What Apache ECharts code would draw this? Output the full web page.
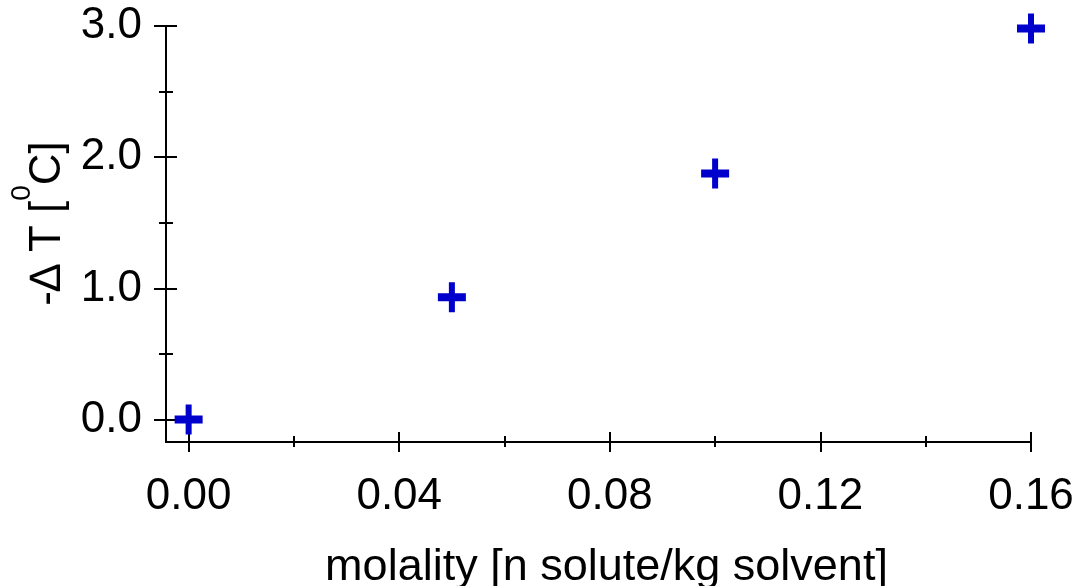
<!DOCTYPE html>
<html><head><meta charset="utf-8">
<script src="https://cdn.jsdelivr.net/npm/echarts@6/dist/echarts.min.js"></script>
<style>html,body{margin:0;padding:0;background:#fff}#c{width:1079px;height:586px}</style>
</head><body><div id="c"></div>
<script>
const molality = [0.00, 0.05, 0.10, 0.16];
const deltaT = [0.00, 0.932, 1.875, 2.98];
const xMajorTicks = [0, 0.04, 0.08, 0.12, 0.16];
const xMinorTicks = [0.02, 0.06, 0.10, 0.14];
const yMajorTicks = [0, 1, 2, 3];
const yMinorTicks = [0.5, 1.5, 2.5];
const xTitle = 'molality [n solute/kg solvent]';
const yTitleMain1 = '-\u2206 T [';
const yTitleSup = '0';
const yTitleMain2 = 'C]';

const XMIN = -0.0043, XMAX = 0.16, YMIN = -0.171, YMAX = 3.0;
const FONT = 'Liberation Sans, Arial, sans-serif';
const BLACK = '#000';

function tickAxis(kind, values, len, inside, extra) {
  const base = {
    type: 'value', min: kind === 'x' ? XMIN : YMIN, max: kind === 'x' ? XMAX : YMAX,
    position: kind === 'x' ? 'bottom' : 'left',
    axisLine: { show: false, onZero: false },
    splitLine: { show: false },
    axisLabel: { show: false },
    axisTick: { show: true, inside: inside, length: len, customValues: values,
      lineStyle: { color: BLACK, width: 2 } }
  };
  return Object.assign(base, extra || {});
}

const data = molality.map((m, i) => [m, deltaT[i]]);

const chart = echarts.init(document.getElementById('c'), null, { renderer: 'canvas' });
chart.setOption({
  animation: false,
  backgroundColor: '#fff',
  textStyle: { fontFamily: FONT },
  grid: { left: 166, right: 48, top: 26, bottom: 144, containLabel: false, outerBoundsMode: 'none' },
  xAxis: [
    tickAxis('x', xMajorTicks, 10, false, {
      axisLine: { show: true, onZero: false, lineStyle: { color: BLACK, width: 2 } },
      axisLabel: { show: true, customValues: xMajorTicks, formatter: v => v.toFixed(2),
        fontSize: 44, color: BLACK, margin: 33, fontFamily: FONT },
      name: xTitle, nameLocation: 'middle', nameGap: 103,
      nameTextStyle: { fontSize: 45, color: BLACK, fontFamily: FONT, padding: [0, 0, 0, 16] }
    }),
    tickAxis('x', xMajorTicks, 10, true),
    tickAxis('x', xMinorTicks, 5, false),
    tickAxis('x', xMinorTicks, 6, true)
  ],
  yAxis: [
    tickAxis('y', yMajorTicks, 12, false, {
      axisLine: { show: true, onZero: false, lineStyle: { color: BLACK, width: 2 } },
      axisLabel: { show: true, customValues: yMajorTicks, formatter: v => v.toFixed(1),
        fontSize: 44, color: BLACK, margin: 24, padding: [18, 0, 0, 0], fontFamily: FONT },
      name: '{a|' + yTitleMain1 + '}{s|' + yTitleSup + '}{a|' + yTitleMain2 + '}',
      nameLocation: 'middle', nameRotate: 90, nameGap: 78,
      nameTextStyle: {
        color: BLACK, fontFamily: FONT, padding: [0, 0, 0, 21],
        rich: {
          a: { fontSize: 44, lineHeight: 80, color: BLACK, fontFamily: FONT },
          s: { fontSize: 28, lineHeight: 31, verticalAlign: 'top', color: BLACK, fontFamily: FONT }
        }
      }
    }),
    tickAxis('y', yMajorTicks, 11, true),
    tickAxis('y', yMinorTicks, 7, false),
    tickAxis('y', yMinorTicks, 7, true)
  ],
  series: [{
    type: 'scatter',
    xAxisIndex: 0, yAxisIndex: 0,
    data: data,
    clip: false,
    symbol: 'path://M11,0H17V11H28V19H17V30H11V19H0V11H11Z',
    symbolSize: [28, 30],
    itemStyle: { color: '#0000CC', opacity: 1 },
    emphasis: { disabled: true }
  }]
});
</script>
</body></html>
